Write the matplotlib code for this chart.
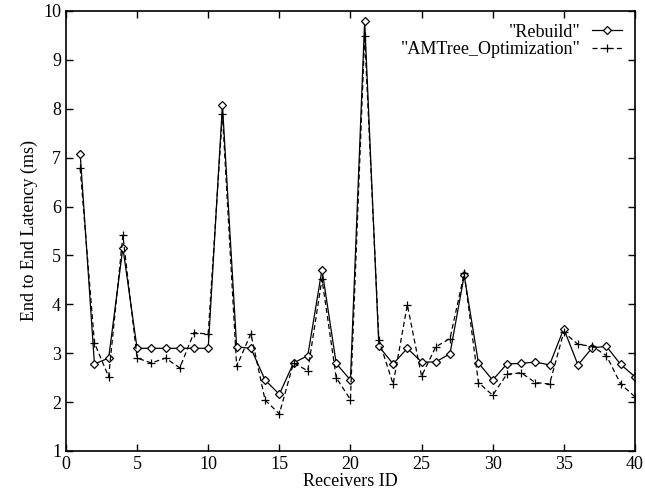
import numpy as np
import matplotlib.pyplot as plt

plt.rcParams['font.family'] = ['Liberation Serif', 'DejaVu Serif']

# --- Data ---
receivers = list(range(1, 41))
rebuild = [7.07, 2.78, 2.90, 5.16, 3.10, 3.10, 3.10, 3.10, 3.10, 3.10,
           8.08, 3.13, 3.10, 2.45, 2.16, 2.80, 2.95, 4.71, 2.79, 2.45,
           9.80, 3.14, 2.78, 3.10, 2.82, 2.82, 2.99, 4.59, 2.80, 2.45,
           2.78, 2.79, 2.82, 2.76, 3.50, 2.76, 3.11, 3.14, 2.77, 2.52]
amtree = [6.78, 3.21, 2.52, 5.41, 2.90, 2.80, 2.90, 2.70, 3.42, 3.39,
          7.89, 2.73, 3.40, 2.04, 1.76, 2.80, 2.64, 4.52, 2.50, 2.05,
          9.49, 3.27, 2.37, 3.99, 2.53, 3.13, 3.30, 4.63, 2.40, 2.14,
          2.57, 2.60, 2.40, 2.37, 3.43, 3.18, 3.14, 2.95, 2.37, 2.11]

fig = plt.figure(figsize=(6.45, 4.97), dpi=100)
ax = fig.add_axes([0.1023, 0.0926, 0.8820, 0.8854])

ax.plot(receivers, rebuild, color='black', lw=0.9, ls='-',
        marker='D', ms=4, mfc='white', mec='black', mew=0.9,
        label='"Rebuild"')
ax.plot(receivers, amtree, color='black', lw=0.9, ls=(0, (4, 2.5)),
        marker='+', ms=6, mew=0.9,
        label='"AMTree_Optimization"')

ax.set_xlim(0, 40)
ax.set_ylim(1, 10)
ax.set_xticks(np.arange(0, 41, 5))
ax.set_yticks(np.arange(1, 11, 1))
ax.tick_params(direction='in', top=True, right=True, length=5, width=1,
               labelsize=13)
for s in ax.spines.values():
    s.set_linewidth(1.2)

ax.set_xlabel("Receivers ID", fontsize=13, labelpad=0)
ax.set_ylabel("End to End Latency (ms)", fontsize=13, labelpad=4)

leg = ax.legend(loc='upper right', frameon=False, markerfirst=False,
                fontsize=13, handlelength=1.7, handletextpad=0.6,
                borderaxespad=0.3, labelspacing=0.05)

fig.savefig("out.png", dpi=100)
